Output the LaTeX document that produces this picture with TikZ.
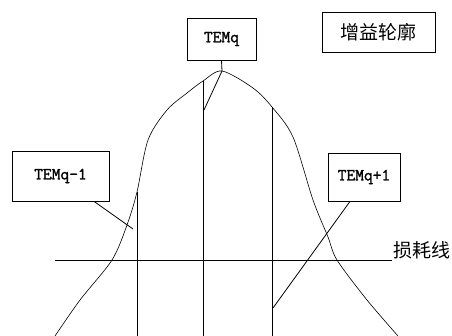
\documentclass[tikz,border=0pt]{standalone}
\usepackage{fontspec}
\newfontfamily\cjk{Noto Sans CJK SC}
\newfontfamily\modefont[FakeBold=1.6]{Latin Modern Mono}
\usetikzlibrary{positioning, calc}

\begin{document}
\begin{tikzpicture}[
      x=1pt, y=-1pt,
      box/.style={draw, thick, inner sep=0pt, font=\modefont\fontsize{17}{19}\selectfont},
      cnbox/.style={draw, thick, inner sep=0pt, font=\cjk\fontsize{19}{21}\selectfont},
      curve/.style={semithick},
      lin/.style={thick}
    ]
      \useasboundingbox (0,0) rectangle (452,336);

      % labels
      \node[box, minimum width=69pt, minimum height=42pt] (tq) at (221.5,39) {TEMq};
      \node[cnbox, minimum width=113pt, minimum height=40pt] (gain) at (378.5,32) {增益轮廓};
      \node[box, minimum width=97pt, minimum height=50pt] (tqm) at (60.5,176) {TEMq-1};
      \node[box, minimum width=72pt, minimum height=48pt] (tqp) at (364,177) {TEMq+1};

      % gain profile
      \coordinate (peak) at (222,71);
      \coordinate (cm) at (137,192);
      \coordinate (c0) at (203,81);
      \coordinate (cp) at (272,107);
      \draw[curve] plot[smooth, tension=0.5] coordinates {(55,336) (80,300) (112,260)
        (127,225) (cm) (148,140) (167,110) (187,93) (c0) (peak) (253,88) (cp)
        (293,137) (313,200) (328,237) (337,260) (367,300) (398,336)};

      % loss line
      \coordinate (l0) at (55,260);
      \coordinate (l1) at (392,260);
      \draw[lin] (l0) -- (l1) node[right, inner sep=1pt, anchor=south west, font=\cjk\fontsize{19}{21}\selectfont] (loss) {损耗线};

      % modes
      \draw[lin] (cm) -- (cm |- 0,336);
      \draw[lin] (c0) -- (c0 |- 0,336);
      \draw[lin] (cp) -- (cp |- 0,336);

      % pointers
      \coordinate (pm) at (133,229);
      \coordinate (p0) at (204,110);
      \coordinate (pp) at (273,308);
      \draw[lin] (tq.south) -- (peak);
      \draw[lin] (peak) -- (p0);
      \draw[lin] ([xshift=-1pt]tqm.south east -| 95,0) -- (pm);
      \draw[lin] (tqp.south -| 350,0) -- (pp);
    \end{tikzpicture}
\end{document}
